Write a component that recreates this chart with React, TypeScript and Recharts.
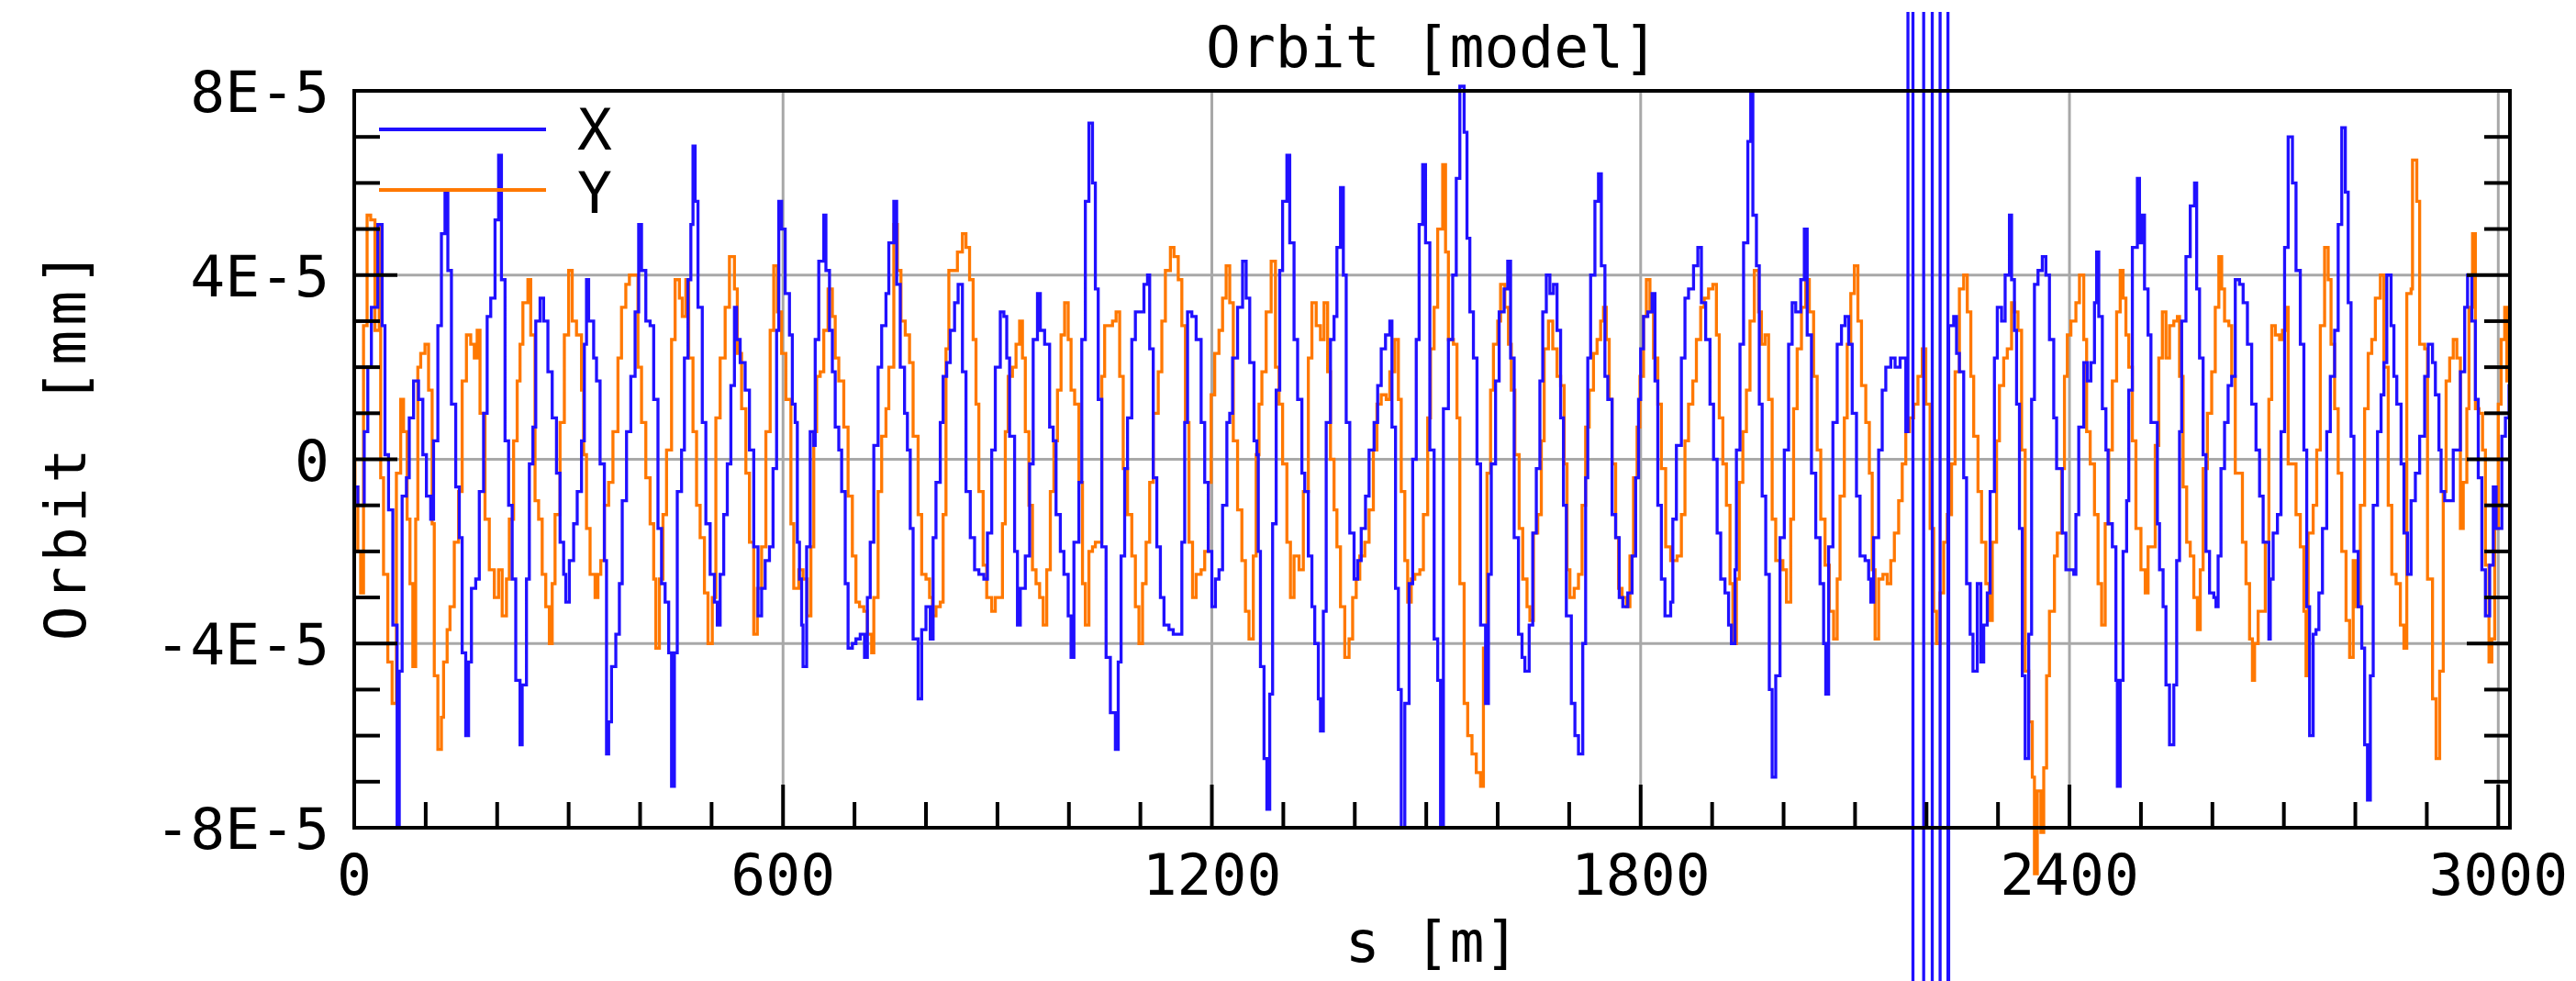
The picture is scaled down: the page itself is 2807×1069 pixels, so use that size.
import { LineChart, Line, XAxis, YAxis, CartesianGrid, Legend } from 'recharts'

// orbit: [s in m, orbit in units of 1E-5 mm]
const xOrbit: [number, number][] = [
  [0, -0.6], [5, -1.0], [14, 0.6], [19, 2.0], [24, 3.3], [33, 5.1], [39, 2.9], [43, 0.1], [48, -1.1], [54, -3.6],
  [60, -8.0], [63, -4.6], [67, -0.8], [73, -0.4], [77, 0.9], [83, 1.7], [90, 1.3], [96, 0.1], [101, -0.8], [107, -1.3],
  [111, 0.4], [117, 2.9], [122, 4.9], [127, 5.8], [131, 4.1], [136, 1.2], [142, -0.6], [147, -1.7], [151, -4.2], [156, -6.0],
  [160, -4.4], [164, -2.8], [170, -2.6], [175, -0.7], [181, 1.0], [186, 3.1], [191, 3.5], [197, 5.2], [202, 6.6], [206, 3.9],
  [211, 0.4], [216, -1.0], [221, -2.6], [226, -4.8], [232, -6.2], [235, -4.9], [241, -2.6], [245, -0.1], [250, 0.7], [254, 3.0],
  [260, 3.5], [265, 3.0], [271, 1.9], [277, 0.9], [283, -0.3], [288, -1.8], [293, -2.5], [296, -3.1], [301, -2.2], [307, -1.4],
  [312, -0.7], [318, 0.4], [322, 2.5], [325, 3.9], [328, 3.0], [335, 2.2], [339, 1.7], [344, -0.1], [350, -2.2], [353, -6.4],
  [356, -5.7], [360, -4.5], [366, -3.8], [371, -2.7], [375, -0.9], [381, 0.6], [387, 1.8], [393, 3.2], [398, 5.1], [402, 4.1],
  [408, 3.0], [414, 2.9], [419, 1.3], [425, -1.5], [430, -2.7], [435, -3.1], [440, -4.2], [444, -7.1], [448, -4.2], [452, -0.7],
  [458, 0.2], [462, 2.2], [467, 3.9], [471, 5.1], [474, 6.8], [477, 5.6], [481, 3.3], [487, 0.8], [492, -1.4], [498, -2.5],
  [504, -3.1], [508, -3.6], [512, -2.5], [517, -1.2], [522, -0.1], [527, 1.6], [532, 3.3], [535, 2.6], [540, 2.1], [547, 1.5],
  [553, 0.2], [559, -1.9], [565, -3.4], [570, -2.8], [575, -2.2], [581, -1.9], [586, -0.2], [591, 2.8], [594, 5.6], [598, 5.0],
  [603, 3.6], [609, 2.7], [613, 1.2], [617, 0.8], [620, -1.8], [623, -2.6], [626, -3.6], [628, -4.5], [633, -1.9], [638, 0.6],
  [643, 0.3], [645, 2.6], [650, 4.3], [657, 5.3], [660, 4.1], [665, 2.8], [669, 1.9], [673, 0.7], [678, 0.2], [682, -0.7],
  [687, -2.7], [691, -4.1], [697, -4.0], [702, -3.9], [708, -3.8], [714, -4.3], [718, -3.0], [722, -1.8], [727, 0.3], [733, 2.0],
  [738, 2.9], [744, 3.6], [748, 4.7], [755, 5.6], [759, 3.8], [764, 2.0], [770, 1.0], [774, 0.2], [778, -1.5], [782, -3.9],
  [789, -5.2], [794, -3.7], [800, -3.2], [806, -3.9], [810, -1.7], [814, -0.5], [820, 0.8], [824, 1.8], [829, 2.1], [834, 2.8],
  [840, 3.4], [845, 3.8], [851, 1.9], [856, -0.7], [862, -1.7], [868, -2.4], [874, -2.5], [881, -2.6], [886, -1.6], [892, 0.2],
  [897, 2.0], [904, 3.2], [909, 3.1], [913, 2.2], [917, 0.5], [924, -2.0], [928, -3.6], [932, -2.8], [939, -2.1], [945, -0.1],
  [950, 2.6], [956, 3.6], [960, 2.8], [966, 2.5], [973, 0.7], [978, 0.4], [982, -1.2], [988, -2.0], [993, -2.5], [999, -3.4],
  [1003, -4.3], [1007, -1.8], [1014, -0.5], [1018, 2.6], [1023, 5.6], [1028, 7.3], [1033, 6.0], [1037, 3.7], [1041, 1.3], [1046, -1.9],
  [1052, -4.3], [1058, -5.5], [1065, -6.3], [1069, -4.4], [1073, -2.1], [1078, -0.2], [1082, 0.9], [1088, 2.6], [1093, 3.2], [1105, 3.8],
  [1110, 4.0], [1113, 2.4], [1118, -0.4], [1123, -1.9], [1128, -3.0], [1133, -3.6], [1140, -3.7], [1146, -3.8], [1158, -1.8], [1162, 0.8],
  [1166, 3.2], [1172, 3.1], [1178, 2.6], [1185, 0.8], [1190, -0.5], [1195, -2.0], [1200, -3.2], [1205, -2.6], [1210, -2.4], [1215, -1.0],
  [1221, 0.8], [1225, 1.0], [1229, 2.2], [1236, 3.3], [1243, 4.3], [1248, 3.5], [1253, 2.1], [1259, 0.4], [1263, 0.1], [1265, -2.0],
  [1268, -4.5], [1273, -6.5], [1277, -7.6], [1281, -5.1], [1285, -1.4], [1290, 1.5], [1295, 4.1], [1299, 5.6], [1305, 6.6], [1309, 4.7],
  [1315, 2.6], [1320, 1.3], [1326, -0.3], [1330, -0.7], [1335, -2.1], [1340, -3.2], [1344, -4.0], [1349, -5.2], [1352, -5.9], [1356, -3.3],
  [1360, 0.8], [1366, 2.6], [1371, 3.1], [1375, 4.6], [1380, 5.9], [1384, 4.0], [1388, 0.8], [1393, -1.6], [1399, -2.6], [1404, -2.2],
  [1409, -1.5], [1415, -0.8], [1420, 0.2], [1427, 0.8], [1432, 1.6], [1437, 2.4], [1443, 2.7], [1449, 3.0], [1452, 0.7], [1457, -2.8],
  [1461, -5.0], [1465, -8.0], [1470, -5.3], [1476, -2.7], [1481, 0.0], [1486, 2.6], [1490, 5.1], [1495, 6.4], [1499, 4.7], [1505, 0.2],
  [1511, -3.9], [1516, -4.8], [1520, -8.0], [1524, 1.1], [1531, 2.6], [1537, 4.0], [1542, 6.1], [1547, 8.1], [1553, 7.1], [1557, 4.8],
  [1561, 3.2], [1566, 2.2], [1571, -0.1], [1576, -3.6], [1583, -5.3], [1587, -2.5], [1591, -0.1], [1597, 1.7], [1602, 3.2], [1609, 3.7],
  [1614, 4.3], [1618, 2.2], [1623, -1.7], [1629, -3.8], [1634, -4.3], [1638, -4.6], [1644, -3.6], [1649, -1.6], [1654, -0.2], [1659, 1.7],
  [1663, 3.2], [1668, 4.0], [1673, 3.6], [1678, 3.8], [1683, 2.8], [1688, 0.9], [1692, -1.0], [1696, -3.4], [1703, -5.3], [1708, -6.0],
  [1713, -6.4], [1719, -4.0], [1723, -0.4], [1726, 2.2], [1730, 4.0], [1736, 5.6], [1741, 6.2], [1745, 4.2], [1750, 1.8], [1754, 1.3],
  [1760, -1.2], [1765, -1.7], [1770, -3.0], [1775, -3.2], [1782, -2.9], [1788, -2.1], [1793, -0.4], [1797, 1.3], [1800, 2.4], [1804, 3.1],
  [1810, 3.2], [1816, 3.6], [1820, 1.7], [1824, -1.0], [1829, -2.6], [1834, -3.4], [1842, -3.1], [1845, -1.3], [1850, 0.3], [1857, 2.2],
  [1862, 3.5], [1867, 3.7], [1874, 4.2], [1880, 4.6], [1885, 3.4], [1891, 2.6], [1897, 1.2], [1902, 0.0], [1907, -1.6], [1912, -2.6],
  [1918, -2.9], [1923, -3.6], [1927, -4.0], [1932, -2.4], [1934, 0.2], [1939, 2.5], [1944, 4.7], [1950, 6.9], [1954, 8.0], [1957, 5.3],
  [1962, 4.2], [1966, 1.2], [1970, -0.8], [1975, -2.5], [1980, -5.0], [1984, -6.9], [1989, -4.7], [1995, -1.7], [2001, 0.2], [2007, 2.5],
  [2012, 3.4], [2017, 3.2], [2024, 3.9], [2029, 5.0], [2033, 2.7], [2039, -0.3], [2045, -1.7], [2051, -2.7], [2056, -4.0], [2059, -5.1],
  [2063, -1.9], [2069, 0.8], [2075, 2.5], [2081, 2.9], [2086, 3.1], [2091, 2.5], [2096, 1.0], [2102, -0.8], [2107, -2.1], [2114, -2.2],
  [2119, -2.6], [2122, -3.1], [2126, -1.7], [2133, 0.2], [2138, 1.5], [2143, 2.0], [2150, 2.2], [2156, 2.0], [2163, 2.2], [2171, 0.6],
  [2174, 30], [2181, -30], [2196, 30], [2208, -30], [2219, 30], [2230, -30], [2231, 2.9], [2238, 3.1], [2242, 2.3], [2246, 1.9],
  [2252, -0.4], [2256, -2.7], [2261, -3.8], [2265, -4.6], [2271, -2.7], [2276, -4.4], [2280, -3.6], [2285, -2.9], [2289, -0.7], [2295, 2.2],
  [2299, 3.3], [2305, 3.0], [2310, 4.0], [2316, 5.3], [2319, 3.9], [2323, 2.8], [2326, 1.2], [2330, -1.5], [2334, -4.7], [2338, -6.5],
  [2343, -3.8], [2347, 1.3], [2351, 3.8], [2356, 4.1], [2362, 4.4], [2367, 4.0], [2372, 2.6], [2378, 0.9], [2382, -0.2], [2390, -1.6],
  [2395, -2.4], [2406, -2.5], [2409, -1.2], [2413, 0.7], [2420, 2.1], [2425, 1.7], [2430, 2.1], [2435, 3.4], [2438, 4.5], [2441, 3.1],
  [2446, 1.1], [2451, 0.2], [2454, -1.4], [2460, -1.9], [2465, -4.8], [2467, -7.1], [2471, -4.8], [2475, -2.0], [2480, -0.9], [2483, 1.5],
  [2488, 4.6], [2495, 6.1], [2498, 4.7], [2502, 5.3], [2505, 3.7], [2510, 2.7], [2514, 0.8], [2523, -1.4], [2526, -2.4], [2531, -3.2],
  [2535, -4.9], [2540, -6.2], [2546, -4.9], [2550, -2.2], [2554, 0.6], [2557, 3.0], [2563, 4.4], [2569, 5.5], [2575, 6.0], [2578, 3.7],
  [2582, 2.2], [2587, 0.1], [2591, -2.0], [2596, -2.9], [2602, -3.0], [2605, -3.2], [2608, -2.1], [2612, -0.2], [2617, 0.8], [2622, 1.6],
  [2627, 1.8], [2632, 3.9], [2638, 3.8], [2643, 3.4], [2649, 2.5], [2655, 1.2], [2661, 0.2], [2666, -0.8], [2671, -1.8], [2679, -3.9],
  [2681, -2.6], [2685, -1.6], [2691, -1.2], [2696, 0.6], [2701, 4.6], [2706, 7.0], [2712, 6.0], [2717, 4.1], [2723, 2.5], [2728, 0.2],
  [2732, -3.2], [2736, -6.0], [2741, -3.8], [2745, -3.7], [2749, -2.9], [2754, -1.5], [2760, 0.6], [2765, 1.8], [2771, 2.8], [2776, 5.1],
  [2781, 7.2], [2786, 5.8], [2790, 3.4], [2794, 0.5], [2798, -2.0], [2804, -3.2], [2809, -4.1], [2813, -6.2], [2817, -7.4], [2821, -4.7],
  [2825, -1.0], [2831, 0.6], [2836, 1.4], [2840, 2.1], [2844, 4.0], [2850, 2.9], [2854, 1.8], [2858, 1.2], [2864, -0.1], [2868, -1.6],
  [2873, -2.5], [2878, -0.9], [2884, -0.3], [2890, 0.5], [2897, 1.8], [2902, 2.5], [2908, 2.1], [2912, 1.4], [2917, 0.2], [2920, -0.7],
  [2925, -0.9], [2937, 0.2], [2947, 1.9], [2953, 3.3], [2957, 4.0], [2963, 3.0], [2968, 1.3], [2972, -0.4], [2977, -2.4], [2982, -3.4],
  [2988, -2.3], [2993, -0.6], [2997, -1.5], [3005, 0.5], [3010, 0.9], [3015, 1.6], [3016, 1.6],
]

const yOrbit: [number, number][] = [
  [0, 0.0], [1, -0.6], [5, -2.0], [9, -2.9], [13, 2.9], [18, 5.3], [23, 5.2], [29, 2.8], [35, 5.1], [37, -0.4],
  [41, -2.5], [47, -4.4], [53, -5.3], [59, -0.3], [65, 1.3], [69, 0.6], [74, -1.3], [78, -2.7], [82, -4.5], [86, -1.3],
  [89, 2.0], [93, 2.3], [99, 2.5], [104, 1.5], [109, -1.4], [112, -4.7], [117, -6.3], [122, -5.6], [125, -4.4], [130, -3.7],
  [134, -3.2], [140, -1.8], [146, -0.7], [151, 1.7], [157, 2.7], [163, 2.5], [168, 2.2], [172, 2.8], [176, 1.0], [183, -1.3],
  [189, -2.4], [196, -3.0], [202, -2.4], [207, -3.4], [213, -2.6], [217, -1.3], [223, 0.4], [228, 1.7], [232, 2.5], [236, 3.4],
  [243, 3.9], [247, 2.7], [253, -0.9], [258, -1.3], [263, -2.5], [268, -3.2], [273, -4.0], [277, -2.7], [281, -1.2], [288, 0.8],
  [294, 2.7], [300, 4.1], [305, 3.0], [311, 2.7], [318, 1.5], [321, 0.1], [325, -1.5], [330, -2.5], [337, -3.0], [341, -2.5],
  [345, -2.2], [350, -1.0], [356, -0.5], [362, 0.6], [369, 2.2], [374, 3.3], [380, 3.8], [385, 4.0], [397, 2.0], [402, 0.8],
  [408, -0.4], [414, -1.4], [419, -2.6], [422, -4.1], [427, -2.6], [432, -1.2], [437, 0.2], [444, 2.6], [449, 3.9], [455, 3.5],
  [459, 3.1], [464, 3.9], [468, 2.2], [474, 0.6], [479, -1.0], [484, -1.7], [490, -2.9], [495, -4.0], [501, -3.0], [506, 0.9],
  [512, 2.2], [519, 3.3], [525, 4.4], [532, 3.7], [536, 2.3], [542, 1.1], [548, -0.3], [553, -1.8], [559, -3.8], [564, -2.8],
  [570, -1.9], [576, 0.6], [582, 2.8], [587, 4.2], [592, 3.2], [598, 2.3], [604, 1.3], [611, -1.4], [615, -2.8], [622, -2.4],
  [628, -2.6], [634, -3.4], [639, -1.9], [643, 0.6], [647, 1.8], [652, 1.9], [657, 2.8], [663, 3.7], [669, 3.1], [673, 2.2],
  [678, 1.7], [685, 0.7], [691, -0.8], [697, -2.1], [702, -3.1], [707, -3.2], [713, -3.3], [718, -3.8], [724, -4.2], [727, -3.0],
  [733, -0.7], [738, 0.5], [744, 1.1], [748, 2.0], [755, 5.1], [760, 4.1], [765, 3.0], [771, 2.7], [777, 2.1], [782, 0.5],
  [789, -1.2], [794, -2.5], [800, -2.6], [805, -3.0], [809, -3.4], [814, -3.2], [820, -3.1], [824, -1.2], [828, 2.4], [832, 4.1],
  [844, 4.5], [851, 4.9], [856, 4.6], [861, 3.9], [866, 2.6], [870, 1.2], [874, -0.7], [880, -2.3], [885, -3.0], [892, -3.3],
  [897, -3.0], [907, -1.4], [911, 0.6], [915, 1.8], [921, 2.0], [926, 2.5], [931, 3.0], [935, 2.2], [939, 0.6], [944, -1.0],
  [949, -2.4], [954, -2.7], [959, -3.0], [964, -3.6], [969, -2.4], [974, -0.7], [979, 0.4], [984, 1.5], [989, 2.7], [994, 3.4],
  [999, 2.6], [1003, 1.5], [1008, 1.2], [1014, -0.5], [1019, -2.7], [1023, -3.6], [1028, -2.0], [1033, -1.9], [1037, -1.8], [1046, 1.8],
  [1050, 2.9], [1061, 3.0], [1066, 3.2], [1071, 1.8], [1076, -0.2], [1082, -1.2], [1088, -2.1], [1093, -3.2], [1098, -4.0], [1103, -2.7],
  [1108, -1.8], [1113, -0.5], [1118, 1.0], [1125, 1.9], [1130, 3.0], [1135, 4.1], [1142, 4.6], [1147, 4.4], [1153, 3.9], [1158, 2.9],
  [1163, 0.8], [1168, -1.8], [1173, -3.0], [1178, -2.5], [1185, -2.4], [1190, -2.0], [1195, -0.5], [1199, 1.4], [1204, 2.3], [1210, 2.8],
  [1215, 3.5], [1220, 4.2], [1225, 3.4], [1230, 0.4], [1236, -1.1], [1242, -2.2], [1247, -3.3], [1252, -3.9], [1258, -2.1], [1262, 0.1],
  [1266, 1.2], [1270, 1.9], [1276, 3.2], [1283, 4.3], [1289, 2.0], [1294, 1.2], [1299, -0.1], [1305, -1.8], [1310, -3.0], [1315, -2.1],
  [1322, -2.4], [1328, -0.7], [1335, 2.2], [1340, 3.4], [1346, 2.9], [1352, 2.6], [1357, 3.4], [1362, 1.9], [1366, 0.0], [1371, -1.1],
  [1375, -1.9], [1380, -3.2], [1386, -4.3], [1392, -3.9], [1397, -3.0], [1402, -2.6], [1407, -2.1], [1414, -1.8], [1420, -1.1], [1426, 0.2],
  [1431, 1.2], [1437, 1.4], [1444, 1.3], [1449, 1.9], [1456, 2.6], [1461, 1.3], [1465, -0.7], [1470, -2.2], [1474, -3.1], [1479, -2.6],
  [1484, -2.5], [1491, -2.4], [1496, -1.2], [1502, 0.9], [1506, 2.4], [1511, 3.3], [1516, 5.0], [1523, 6.4], [1527, 4.5], [1531, 2.6],
  [1538, 2.5], [1543, 0.9], [1547, -2.7], [1553, -5.3], [1558, -6.0], [1564, -6.4], [1570, -6.8], [1576, -7.1], [1580, -4.1], [1585, -0.3],
  [1590, 1.5], [1594, 2.5], [1600, 3.0], [1604, 3.8], [1610, 3.3], [1615, 2.5], [1619, 1.5], [1624, 0.1], [1630, -1.5], [1635, -2.6],
  [1641, -3.2], [1645, -3.5], [1650, -1.6], [1656, -1.2], [1661, 0.4], [1665, 2.4], [1671, 3.0], [1677, 2.4], [1683, 1.8], [1688, 1.6],
  [1693, -0.1], [1697, -2.4], [1701, -3.0], [1707, -2.8], [1713, -2.5], [1718, -1.0], [1723, 0.7], [1728, 1.5], [1734, 2.3], [1739, 2.6],
  [1744, 3.0], [1748, 3.3], [1752, 2.6], [1756, 1.3], [1760, -0.1], [1765, -1.7], [1769, -2.8], [1774, -3.0], [1780, -3.2], [1785, -2.1],
  [1790, -0.4], [1795, 0.7], [1799, 1.8], [1804, 3.1], [1808, 3.9], [1813, 3.2], [1818, 2.2], [1824, 1.2], [1829, -0.2], [1835, -1.9],
  [1842, -2.2], [1851, -2.1], [1857, -1.2], [1862, 0.4], [1867, 1.2], [1873, 1.7], [1878, 2.6], [1884, 3.3], [1889, 3.5], [1895, 3.7],
  [1901, 3.8], [1906, 2.7], [1910, 0.9], [1915, -0.1], [1920, -1.0], [1925, -2.7], [1929, -4.0], [1934, -2.6], [1938, -0.5], [1943, 0.6],
  [1948, 1.5], [1953, 3.0], [1959, 4.1], [1965, 3.2], [1969, 2.5], [1974, 2.7], [1979, 1.3], [1984, -1.3], [1989, -2.2], [1999, -2.4],
  [2004, -3.1], [2010, -1.3], [2014, 1.1], [2019, 2.4], [2025, 3.3], [2031, 3.9], [2036, 3.2], [2042, 1.8], [2047, 0.2], [2052, -1.3],
  [2058, -2.3], [2064, -3.3], [2070, -3.9], [2075, -2.6], [2079, -0.8], [2085, 0.9], [2089, 2.5], [2094, 3.6], [2099, 4.2], [2104, 3.0],
  [2109, 1.6], [2115, 0.8], [2120, -0.3], [2124, -2.4], [2128, -3.9], [2133, -2.6], [2139, -2.5], [2145, -2.7], [2150, -2.2], [2155, -1.6],
  [2161, -0.9], [2166, -0.1], [2171, 0.6], [2176, 0.9], [2182, 1.2], [2188, 1.8], [2194, 2.4], [2199, 1.2], [2205, -1.5], [2210, -3.3],
  [2214, -4.0], [2219, -2.9], [2224, -1.8], [2229, -1.2], [2235, -0.1], [2240, 1.9], [2246, 3.7], [2252, 4.0], [2257, 3.2], [2262, 1.8],
  [2266, 0.5], [2272, -0.7], [2277, -1.8], [2283, -2.7], [2288, -3.5], [2292, -1.8], [2298, 0.4], [2302, 1.6], [2308, 2.2], [2313, 2.4],
  [2319, 3.4], [2323, 3.2], [2328, 2.8], [2333, 0.2], [2338, -4.6], [2343, -5.7], [2348, -6.9], [2351, -9.0], [2355, -7.2], [2360, -8.1],
  [2364, -6.7], [2368, -4.7], [2372, -3.3], [2379, -2.1], [2383, -1.6], [2389, -0.2], [2393, 1.8], [2397, 2.7], [2402, 3.0], [2409, 3.4],
  [2414, 4.0], [2420, 2.6], [2424, 0.6], [2429, -0.1], [2435, -1.2], [2440, -2.7], [2445, -3.6], [2450, -1.4], [2455, 0.2], [2460, 1.7],
  [2466, 3.2], [2471, 4.1], [2475, 3.5], [2479, 2.7], [2483, 2.0], [2488, 0.4], [2493, -1.5], [2500, -2.4], [2506, -2.9], [2510, -1.9],
  [2520, 0.3], [2525, 2.2], [2530, 3.2], [2535, 2.2], [2540, 2.9], [2546, 3.0], [2551, 3.1], [2554, 1.8], [2559, -0.6], [2564, -1.8],
  [2569, -2.1], [2574, -3.0], [2579, -3.7], [2583, -2.4], [2587, -0.2], [2593, 1.0], [2599, 1.9], [2604, 3.3], [2609, 4.4], [2613, 3.7],
  [2617, 3.0], [2623, 2.9], [2627, 1.8], [2632, -0.3], [2642, -1.8], [2647, -2.7], [2652, -3.9], [2656, -4.8], [2659, -4.0], [2664, -3.3],
  [2674, -1.8], [2679, 1.3], [2683, 2.9], [2688, 2.7], [2694, 2.6], [2698, 2.8], [2702, 3.3], [2706, -0.1], [2717, -1.2], [2723, -1.9],
  [2728, -3.3], [2731, -4.7], [2734, -1.6], [2741, -1.0], [2746, 0.2], [2751, 2.9], [2757, 4.6], [2762, 3.9], [2766, 2.5], [2771, 1.1],
  [2776, -0.3], [2781, -2.0], [2787, -3.5], [2792, -4.3], [2797, -2.2], [2801, -3.2], [2807, -1.0], [2813, 1.1], [2818, 2.3], [2823, 2.6],
  [2828, 3.5], [2835, 4.0], [2840, 2.0], [2846, -1.0], [2851, -2.5], [2857, -2.7], [2863, -3.6], [2868, -4.1], [2872, 3.6], [2878, 3.7],
  [2880, 6.5], [2886, 5.6], [2890, 2.5], [2897, 2.4], [2901, -2.6], [2908, -5.2], [2913, -6.5], [2918, -4.6], [2923, -0.7], [2927, 1.7],
  [2932, 2.2], [2937, 2.6], [2942, 2.2], [2947, -1.5], [2951, -0.5], [2956, 1.1], [2959, 3.3], [2964, 4.9], [2968, 1.1], [2973, 1.0],
  [2978, 0.2], [2982, -2.3], [2987, -4.4], [2991, -3.9], [2995, -1.5], [3000, 1.2], [3004, 2.6], [3009, 3.3], [3012, 1.7], [3016, 0.0],
]

const sTicks = [
  0, 100, 200, 300, 400, 500, 600, 700, 800, 900, 1000, 1100, 1200, 1300, 1400, 1500,
  1600, 1700, 1800, 1900, 2000, 2100, 2200, 2300, 2400, 2500, 2600, 2700, 2800, 2900, 3000,
]
const sMajor = [0, 600, 1200, 1800, 2400, 3000]
const vTicks = [-8, -7, -6, -5, -4, -3, -2, -1, 0, 1, 2, 3, 4, 5, 6, 7, 8]
const vMajor = [8, 4, 0, -4, -8]
const vMajorText = ['8E-5', '4E-5', '0', '-4E-5', '-8E-5']
const sGrid = [600, 1200, 1800, 2400, 3000]
const vGrid = [4, 0, -4]

const S_MAX = 3016.3
const BLUE = '#2010ff'
const ORANGE = '#ff7800'
const W = 2799
const H = 1056
const MAJOR = 47
const MINOR = 28
const font = { fontFamily: '"DejaVu Sans Mono", monospace', fontSize: 63, fill: '#000' }

const rows = (pts: [number, number][]) => pts.map(([s, v]) => ({ s, v }))
const xData = rows(xOrbit)
const yData = rows(yOrbit)

const frame = { stroke: '#000', strokeWidth: 4, strokeLinecap: 'square' as const }

function BottomTick(p: any) {
  const v = p.payload.value
  const major = sMajor.includes(v)
  return (
    <g>
      <line x1={p.x} x2={p.x} y1={p.y} y2={p.y - (major ? MAJOR : MINOR)} stroke="#000" strokeWidth={4} />
      {major && (
        <text x={p.x} y={p.y + 73} textAnchor="middle" style={font}>
          {v}
        </text>
      )}
    </g>
  )
}

function TopTick(p: any) {
  const major = sMajor.includes(p.payload.value)
  return <line x1={p.x} x2={p.x} y1={p.y} y2={p.y + (major ? MAJOR : MINOR)} stroke="#000" strokeWidth={4} />
}

function LeftTick(p: any) {
  const i = vMajor.indexOf(p.payload.value)
  return (
    <g>
      <line x1={p.x} x2={p.x + (i >= 0 ? MAJOR : MINOR)} y1={p.y} y2={p.y} stroke="#000" strokeWidth={4} />
      {i >= 0 && (
        <text x={p.x - 27} y={p.y + 23} textAnchor="end" style={font}>
          {vMajorText[i]}
        </text>
      )}
    </g>
  )
}

function RightTick(p: any) {
  const major = vMajor.includes(p.payload.value)
  return <line x1={p.x} x2={p.x - (major ? MAJOR : MINOR)} y1={p.y} y2={p.y} stroke="#000" strokeWidth={4} />
}

function OrbitLegend(lp: any) {
  const items = lp.payload || []
  return (
    <div style={{ position: 'relative', width: 700, height: 240 }}>
      {items.map((e: any, i: number) => (
        <div key={e.value}>
          <div style={{ position: 'absolute', left: 405, top: 126 + i * 66, width: 182, height: 4, background: e.color }} />
          <div
            style={{
              position: 'absolute',
              left: 621,
              top: 97 + i * 69,
              fontFamily: font.fontFamily,
              fontSize: 63,
              lineHeight: '63px',
              color: '#000',
            }}
          >
            {e.value}
          </div>
        </div>
      ))}
    </div>
  )
}

export default function App() {
  return (
    <div style={{ position: 'fixed', left: 8, top: 13, width: W, height: H }}>
      <style>{'.recharts-wrapper [clip-path]{clip-path:none !important}.recharts-surface{overflow:hidden !important}'}</style>
      <LineChart width={W} height={H} margin={{ top: 0, right: 71, bottom: 0, left: 0 }}>
        <CartesianGrid
          horizontalValues={vGrid}
          verticalValues={sGrid}
          stroke="#a8a8a8"
          strokeWidth={3}
          strokeDasharray=""
        />
        <XAxis
          type="number"
          dataKey="s"
          domain={[0, S_MAX]}
          allowDataOverflow
          ticks={sTicks}
          interval={0}
          height={167}
          tickSize={0}
          tickMargin={0}
          tickLine={false}
          axisLine={frame}
          tick={BottomTick}
          label={{
            content: (lp: any) => (
              <text x={lp.viewBox.x + lp.viewBox.width / 2} y={lp.viewBox.y + 146} textAnchor="middle" style={font}>
                s [m]
              </text>
            ),
          }}
        />
        <XAxis
          xAxisId="t"
          orientation="top"
          type="number"
          domain={[0, S_MAX]}
          allowDataOverflow
          ticks={sTicks}
          interval={0}
          height={86}
          tickSize={0}
          tickMargin={0}
          tickLine={false}
          axisLine={frame}
          tick={TopTick}
          label={{
            content: (lp: any) => (
              <text x={lp.viewBox.x + lp.viewBox.width / 2} y={lp.viewBox.y + 60} textAnchor="middle" style={font}>
                Orbit [model]
              </text>
            ),
          }}
        />
        <YAxis
          type="number"
          domain={[-8, 8]}
          allowDataOverflow
          ticks={vTicks}
          interval={0}
          width={378}
          tickSize={0}
          tickMargin={0}
          tickLine={false}
          axisLine={frame}
          tick={LeftTick}
          label={{
            content: (lp: any) => {
              const cy = lp.viewBox.y + lp.viewBox.height / 2 - 17
              return (
                <text
                  x={85}
                  y={cy}
                  transform={`rotate(-90 85 ${cy})`}
                  textAnchor="middle"
                  style={{ ...font, letterSpacing: 5 }}
                >
                  Orbit [mm]
                </text>
              )
            },
          }}
        />
        <YAxis
          yAxisId="r"
          orientation="right"
          type="number"
          domain={[-8, 8]}
          allowDataOverflow
          ticks={vTicks}
          interval={0}
          width={1}
          tickSize={0}
          tickMargin={0}
          tickLine={false}
          axisLine={frame}
          tick={RightTick}
        />
        <Line
          name="Y"
          data={yData}
          dataKey="v"
          type="stepAfter"
          stroke={ORANGE}
          strokeWidth={3.3}
          dot={false}
          isAnimationActive={false}
        />
        <Line
          name="X"
          data={xData}
          dataKey="v"
          type="stepAfter"
          stroke={BLUE}
          strokeWidth={3.3}
          dot={false}
          isAnimationActive={false}
        />
        <Legend
          layout="horizontal"
          verticalAlign="middle"
          align="center"
          wrapperStyle={{ left: 0, top: 0, width: 700, height: 240 }}
          content={OrbitLegend}
        />
      </LineChart>
    </div>
  )
}
